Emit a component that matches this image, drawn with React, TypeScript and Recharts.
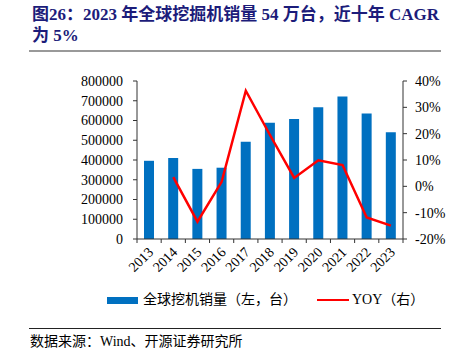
import { ComposedChart, Bar, Line, XAxis, YAxis } from 'recharts'

const years = ['2013', '2014', '2015', '2016', '2017', '2018', '2019', '2020', '2021', '2022', '2023']
const sales = [396000, 410000, 355000, 361000, 492000, 588000, 607000, 667000, 721000, 636000, 541000]
const yoy = [null, 0.035, -0.134, 0.017, 0.363, 0.195, 0.032, 0.099, 0.081, -0.118, -0.149]
const leftTicks = [0, 100000, 200000, 300000, 400000, 500000, 600000, 700000, 800000]
const rightTicks = [-0.2, -0.1, 0, 0.1, 0.2, 0.3, 0.4]

const data = years.map((y, i) => ({ year: y, sales: sales[i], yoy: yoy[i] }))

const SERIF = '"Liberation Serif", "Times New Roman", "Noto Sans CJK SC", serif'
const LEFT_W = 137
const RIGHT_W = 47
const BAND = (450 - LEFT_W - RIGHT_W) / years.length

const YearTick = (props: any) => {
  const { x, y, payload, index } = props
  return (
    <g>
      <line x1={x - BAND / 2} y1={y - 4} x2={x - BAND / 2} y2={y} stroke="#333" />
      {index === years.length - 1 && (
        <line x1={x + BAND / 2} y1={y - 4} x2={x + BAND / 2} y2={y} stroke="#333" />
      )}
      <text
        x={x + 5}
        y={y + 10}
        textAnchor="end"
        transform={`rotate(-45, ${x + 5}, ${y + 10})`}
        fontSize={14}
        fontFamily={SERIF}
        fill="#000"
      >
        {payload.value}
      </text>
    </g>
  )
}

const App = () => {
  return (
    <div style={{ position: 'absolute', left: 0, top: 0, width: 450, height: 363, background: '#fff', fontFamily: SERIF }}>
      <div style={{ position: 'absolute', left: 32, top: 4, fontSize: 17, fontWeight: 'bold', color: '#1c1c7a', lineHeight: '21px', whiteSpace: 'nowrap' }}>
        图26：2023 年全球挖掘机销量 54 万台，近十年 CAGR<br />为 5%
      </div>
      <div style={{ position: 'absolute', left: 29, top: 50, width: 412, height: 2, background: '#999' }} />
      <ComposedChart width={450} height={363} data={data} margin={{ top: 81, right: 0, left: 0, bottom: 84 }}>
        <XAxis
          dataKey="year"
          height={40}
          stroke="#333"
          tickLine={false}
          tickSize={4}
          tickMargin={0}
          interval={0}
          tick={<YearTick />}
        />
        <YAxis
          yAxisId="left"
          width={LEFT_W}
          domain={[0, 800000]}
          ticks={leftTicks}
          interval={0}
          stroke="#333"
          tickSize={4}
          tickMargin={10}
          tick={{ fill: '#000', fontSize: 14, fontFamily: SERIF }}
        />
        <YAxis
          yAxisId="right"
          orientation="right"
          width={RIGHT_W}
          domain={[-0.2, 0.4]}
          ticks={rightTicks}
          interval={0}
          stroke="#333"
          tickSize={4}
          tickMargin={8}
          tickFormatter={(v: number) => `${Math.round(v * 100)}%`}
          tick={{ fill: '#000', fontSize: 14, fontFamily: SERIF, textAnchor: 'start' }}
        />
        <Bar yAxisId="left" dataKey="sales" fill="#0070c0" barSize={10} isAnimationActive={false} />
        <Line yAxisId="right" dataKey="yoy" stroke="#ff0000" strokeWidth={2.5} dot={false} isAnimationActive={false} />
      </ComposedChart>
      <div style={{ position: 'absolute', left: 107, top: 297, width: 31, height: 7, background: '#0070c0' }} />
      <div style={{ position: 'absolute', left: 143, top: 291, fontSize: 14, lineHeight: '18px', color: '#000', whiteSpace: 'nowrap' }}>
        全球挖机销量（左，台）
      </div>
      <div style={{ position: 'absolute', left: 317, top: 299, width: 32, height: 2, background: '#ff0000' }} />
      <div style={{ position: 'absolute', left: 352, top: 291, fontSize: 14, lineHeight: '18px', color: '#000', whiteSpace: 'nowrap' }}>
        YOY（右）
      </div>
      <div style={{ position: 'absolute', left: 29, top: 328, width: 412, height: 1, background: '#222' }} />
      <div style={{ position: 'absolute', left: 30, top: 333, fontSize: 14, lineHeight: '18px', color: '#000', whiteSpace: 'nowrap' }}>
        数据来源：Wind、开源证券研究所
      </div>
    </div>
  )
}

export default App
